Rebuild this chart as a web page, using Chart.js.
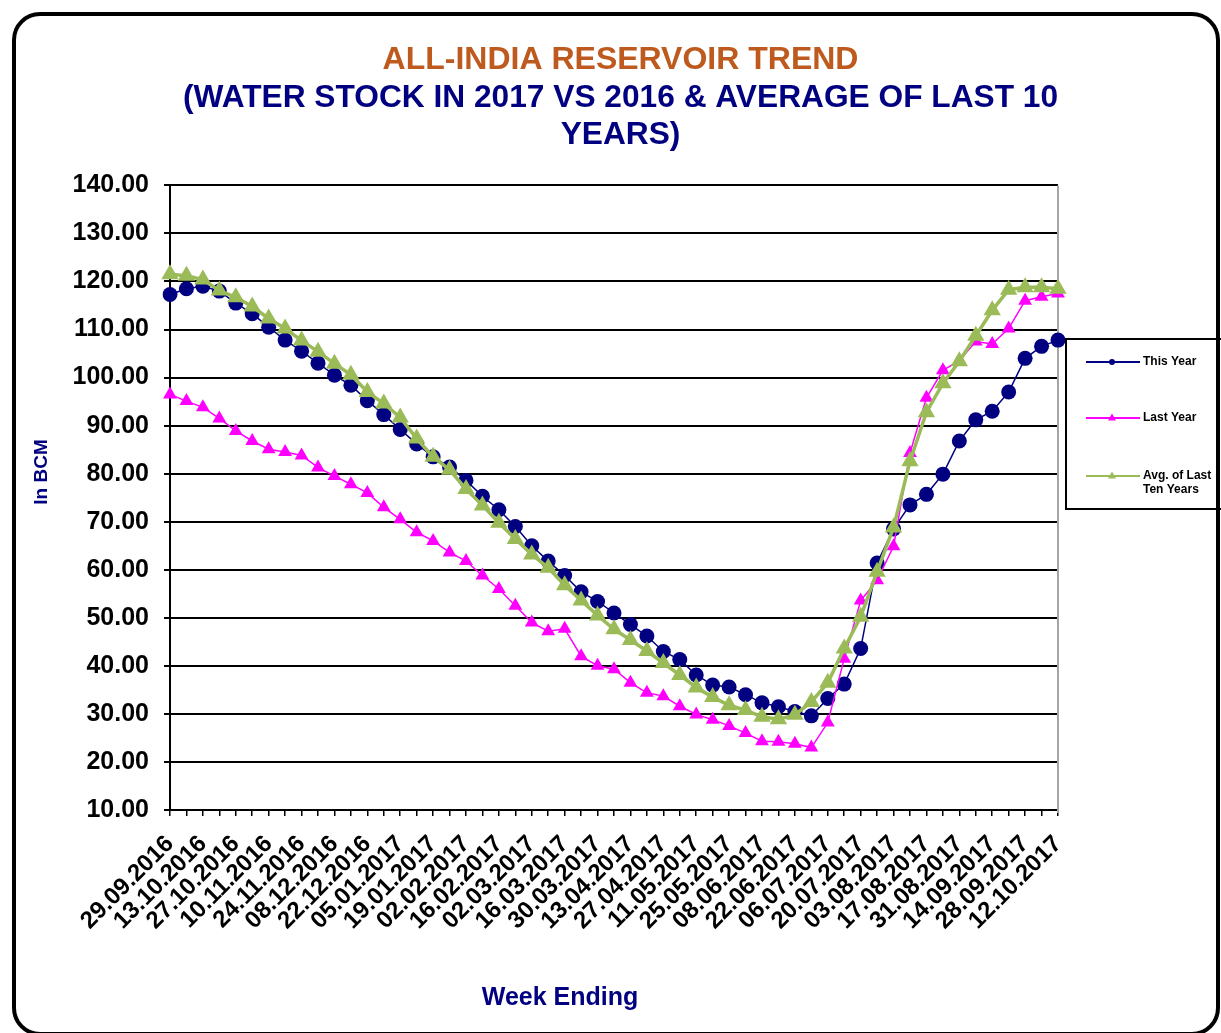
<!DOCTYPE html>
<html>
<head>
<meta charset="utf-8">
<script src="https://cdn.jsdelivr.net/npm/chart.js@4.4.1/dist/chart.umd.min.js"></script>
<style>
  html, body { margin: 0; padding: 0; background: #fff; }
  body { width: 1221px; height: 1033px; overflow: hidden; position: relative; }
  #marco { position: absolute; left: 12px; top: 12px; width: 1208px; height: 1024px; border: 4px solid #000; border-radius: 28px; box-sizing: border-box; }
  #contenedor { position: absolute; left: 20px; top: 0; width: 1201px; height: 1033px; }
</style>
</head>
<body>
<div id="marco"></div>
<div id="contenedor"><canvas id="chartReservorio"></canvas></div>
<script>
const FUENTE = '"Liberation Sans", Arial, sans-serif';

const semanas = [
  '29.09.2016','06.10.2016','13.10.2016','20.10.2016','27.10.2016','03.11.2016','10.11.2016','17.11.2016',
  '24.11.2016','01.12.2016','08.12.2016','15.12.2016','22.12.2016','29.12.2016','05.01.2017','12.01.2017',
  '19.01.2017','26.01.2017','02.02.2017','09.02.2017','16.02.2017','23.02.2017','02.03.2017','09.03.2017',
  '16.03.2017','23.03.2017','30.03.2017','06.04.2017','13.04.2017','20.04.2017','27.04.2017','04.05.2017',
  '11.05.2017','18.05.2017','25.05.2017','01.06.2017','08.06.2017','15.06.2017','22.06.2017','29.06.2017',
  '06.07.2017','13.07.2017','20.07.2017','27.07.2017','03.08.2017','10.08.2017','17.08.2017','24.08.2017',
  '31.08.2017','07.09.2017','14.09.2017','21.09.2017','28.09.2017','05.10.2017','12.10.2017'
];

const esteAnio = [
  117.3, 118.5, 119.0, 118.0, 115.5, 113.3, 110.5, 107.8, 105.5, 103.0,
  100.5, 98.4, 95.2, 92.3, 89.2, 86.2, 83.5, 81.4, 78.6, 75.3,
  72.5, 69.0, 65.0, 61.8, 58.8, 55.4, 53.4, 51.0, 48.6, 46.2,
  43.0, 41.3, 38.1, 36.0, 35.6, 34.0, 32.3, 31.5, 30.5, 29.6,
  33.2, 36.2, 43.6, 61.4, 68.5, 73.5, 75.7, 79.9, 86.8, 91.2,
  93.0, 97.0, 104.0, 106.5, 107.8
];

const anioPasado = [
  96.5, 95.1, 93.8, 91.5, 88.9, 86.8, 85.1, 84.5, 83.8, 81.3,
  79.5, 77.8, 76.0, 73.0, 70.5, 67.8, 66.0, 63.6, 61.8, 58.8,
  56.0, 52.5, 49.0, 47.2, 47.7, 42.0, 40.0, 39.3, 36.5, 34.4,
  33.7, 31.6, 29.9, 28.8, 27.5, 26.0, 24.3, 24.2, 23.8, 23.0,
  28.2, 41.5, 53.6, 57.8, 64.9, 84.3, 95.8, 101.5, 103.5, 107.5,
  107.0, 110.2, 116.0, 116.8, 117.5
];

const promedioDiez = [
  121.5, 121.2, 120.4, 118.1, 116.7, 114.8, 112.3, 110.2, 107.7, 105.4,
  102.9, 100.6, 97.0, 94.6, 91.7, 87.3, 83.5, 80.8, 76.8, 73.4,
  69.8, 66.4, 63.2, 60.4, 56.8, 53.6, 50.5, 47.6, 45.4, 43.1,
  40.6, 38.1, 35.5, 33.5, 31.8, 30.8, 29.4, 28.9, 29.8, 32.5,
  36.5, 43.6, 50.2, 59.6, 68.8, 82.6, 92.8, 98.8, 103.4, 108.7,
  114.0, 118.3, 118.8, 118.8, 118.5
];

const nombresSeries = ['This Year', 'Last Year', ['Avg. of Last', 'Ten Years']];

// leyenda con recuadro, titulos de ejes y borde derecho del area
const extras = {
  id: 'extras',
  beforeDatasetsDraw(chart) {
    const { ctx, chartArea: a } = chart;
    ctx.save();
    ctx.strokeStyle = '#a6a6a6';
    ctx.lineWidth = 2;
    ctx.beginPath();
    ctx.moveTo(a.right, a.top);
    ctx.lineTo(a.right, a.bottom + 3);
    ctx.stroke();
    ctx.restore();
  },
  afterDraw(chart) {
    const { ctx, chartArea: a } = chart;
    ctx.save();
    ctx.fillStyle = '#000080';
    ctx.textAlign = 'center';
    ctx.textBaseline = 'middle';
    ctx.font = 'bold 25px ' + FUENTE;
    ctx.fillText('Week Ending', 540, 998);
    ctx.translate(22, 472);
    ctx.rotate(-Math.PI / 2);
    ctx.font = 'bold 19px ' + FUENTE;
    ctx.fillText('In BCM', 0, 0);
    ctx.restore();

    const bx = a.right + 8, by = 339;
    ctx.save();
    ctx.lineWidth = 2;
    ctx.strokeStyle = '#000';
    ctx.strokeRect(bx, by, 220, 170);
    const filas = [362, 418, 476];
    chart.data.datasets.forEach((ds, i) => {
      const y = filas[i];
      ctx.strokeStyle = ds.borderColor;
      ctx.lineWidth = 2;
      ctx.beginPath();
      ctx.moveTo(bx + 20, y);
      ctx.lineTo(bx + 74, y);
      ctx.stroke();
      ctx.fillStyle = ds.borderColor;
      const mx = bx + 46;
      ctx.beginPath();
      if (ds.pointStyle === 'triangle') {
        ctx.moveTo(mx, y - 4.5);
        ctx.lineTo(mx + 4, y + 2.5);
        ctx.lineTo(mx - 4, y + 2.5);
        ctx.closePath();
      } else {
        ctx.arc(mx, y, 3, 0, Math.PI * 2);
      }
      ctx.fill();
      ctx.fillStyle = '#000';
      ctx.font = 'bold 12px ' + FUENTE;
      ctx.textAlign = 'left';
      ctx.textBaseline = 'middle';
      const txt = [].concat(ds.label);
      txt.forEach((t, k) => ctx.fillText(t, bx + 77, y + k * 14));
    });
    ctx.restore();
  }
};

function crearGrafico() {
  const ctx = document.getElementById('chartReservorio');
  new Chart(ctx, {
    type: 'line',
    data: {
      labels: semanas,
      datasets: [
        {
          label: nombresSeries[0],
          data: esteAnio,
          borderColor: '#000080',
          backgroundColor: '#000080',
          borderWidth: 1.5,
          pointStyle: 'circle',
          pointRadius: 7.5,
          pointBorderWidth: 0,
          pointBackgroundColor: '#000080',
          tension: 0,
          order: 2
        },
        {
          label: nombresSeries[1],
          data: anioPasado,
          borderColor: '#ff00ff',
          backgroundColor: '#ff00ff',
          borderWidth: 1.5,
          pointStyle: 'triangle',
          pointRadius: 8,
          pointBorderWidth: 0,
          pointBackgroundColor: '#ff00ff',
          tension: 0,
          order: 1
        },
        {
          label: nombresSeries[2],
          data: promedioDiez,
          borderColor: '#9bbb59',
          backgroundColor: '#9bbb59',
          borderWidth: 3.5,
          pointStyle: 'triangle',
          pointRadius: 10,
          pointBorderWidth: 0,
          pointBackgroundColor: '#9bbb59',
          tension: 0,
          order: 0
        }
      ]
    },
    options: {
      responsive: true,
      maintainAspectRatio: false,
      animation: false,
      events: [],
      layout: { padding: 0 },
      plugins: {
        legend: { display: false },
        tooltip: { enabled: false },
        title: {
          display: true,
          text: 'ALL-INDIA RESERVOIR TREND',
          color: '#be5a1e',
          font: { family: FUENTE, size: 32, weight: 'bold', lineHeight: 1.2 },
          padding: { top: 41, bottom: 0 }
        },
        subtitle: {
          display: true,
          text: ['(WATER STOCK IN 2017 VS 2016 & AVERAGE OF LAST 10', 'YEARS)'],
          color: '#000080',
          font: { family: FUENTE, size: 31.7, weight: 'bold', lineHeight: 1.167 },
          padding: { top: 0, bottom: 32 }
        }
      },
      scales: {
        x: {
          offset: false,
          afterFit: s => { s.height = 223; },
          grid: { drawOnChartArea: false, drawTicks: true, tickLength: 6, color: '#000', lineWidth: 1.5 },
          border: { color: '#000', width: 2 },
          ticks: {
            autoSkip: false,
            minRotation: 45,
            maxRotation: 45,
            padding: 14,
            color: '#000',
            font: { family: FUENTE, size: 24, weight: 'bold' },
            callback: (v, i) => (i % 2 === 0 ? semanas[i] : '')
          }
        },
        y: {
          min: 10,
          max: 140,
          afterFit: s => { s.width = 150; },
          grid: { color: '#000', lineWidth: 2, tickLength: 6 },
          border: { color: '#000', width: 2 },
          ticks: {
            stepSize: 10,
            padding: 15,
            color: '#000',
            font: { family: FUENTE, size: 25, weight: 'bold' },
            callback: v => Number(v).toFixed(2)
          }
        },
        hueco: {
          type: 'linear',
          position: 'right',
          display: true,
          afterFit: s => { s.width = 163; },
          grid: { display: false },
          border: { display: false },
          ticks: { display: false }
        }
      }
    },
    plugins: [extras]
  });
}

crearGrafico();
</script>
</body>
</html>
